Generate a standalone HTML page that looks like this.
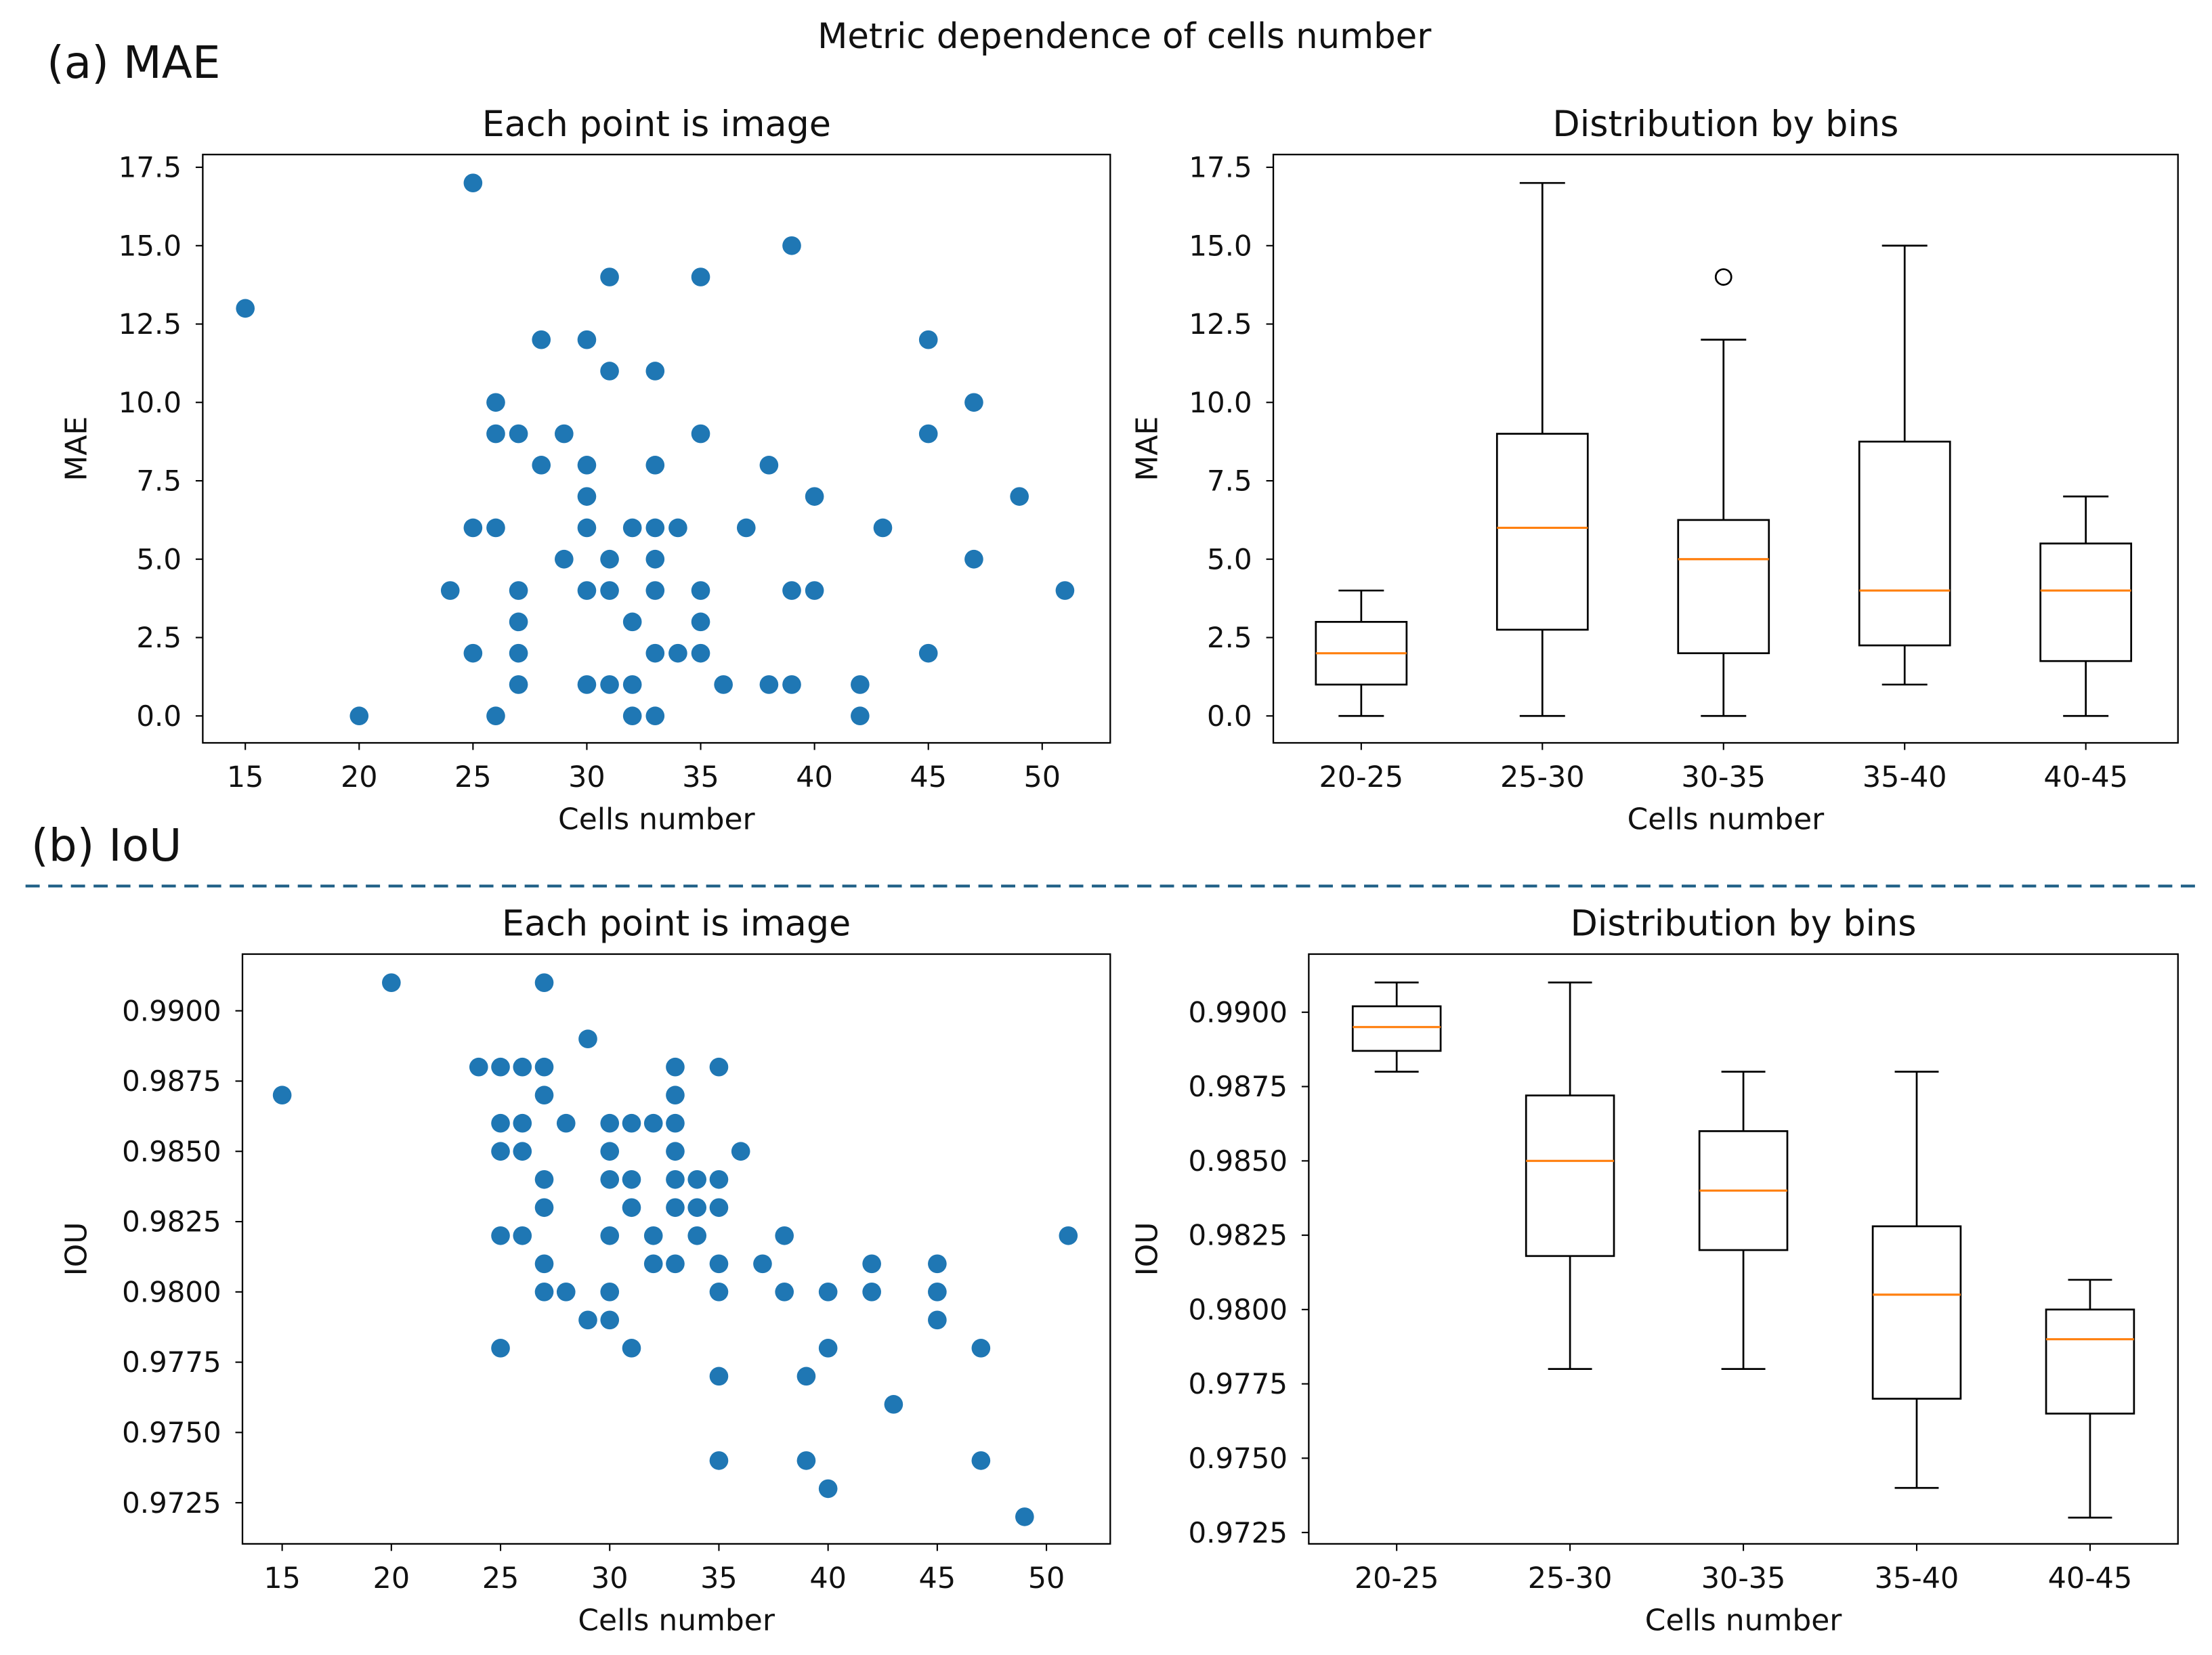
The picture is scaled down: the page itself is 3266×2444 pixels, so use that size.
<!DOCTYPE html>
<html><head><meta charset="utf-8"><style>
html,body{margin:0;padding:0;background:#fff}
svg{display:block;font-family:"DejaVu Sans","Liberation Sans",sans-serif}
</style></head><body>
<svg id="chart" width="3266" height="2444" viewBox="0 0 1560 1167.4" preserveAspectRatio="none" xmlns="http://www.w3.org/2000/svg">
<rect width="1560" height="1168" fill="#fff"/>
<text x="793" y="34" font-size="24.5" text-anchor="middle" fill="#111">Metric dependence of cells number</text>
<text x="33" y="55" font-size="31.5" fill="#111">(a) MAE</text>
<text x="22" y="607" font-size="31.5" fill="#111">(b) IoU</text>
<line x1="18" y1="625" x2="1550" y2="625" stroke="#1f5f86" stroke-width="2" stroke-dasharray="10,6"/>
<g id="g"></g>
</svg>
<script>
// MAE scatter data
const maeX = [15,25,31,35,39,28,30,45,31,33,26,47,26,27,29,35,45,28,30,33,38,30,40,49,25,26,30,32,33,34,37,43,29,31,33,47,24,27,30,31,33,35,39,40,51,27,32,35,25,27,33,34,35,45,27,30,31,32,36,38,39,42,20,26,32,33,42];
const maeY = [13,17,14,14,15,12,12,12,11,11,10,10,9,9,9,9,9,8,8,8,8,7,7,7,6,6,6,6,6,6,6,6,5,5,5,5,4,4,4,4,4,4,4,4,4,3,3,3,2,2,2,2,2,2,1,1,1,1,1,1,1,1,0,0,0,0,0];
// IoU scatter data
const iouX = [20,27,29,24,25,26,27,33,35,15,27,33,25,26,28,30,31,32,33,25,26,30,33,36,27,30,31,33,34,35,27,31,33,34,35,25,26,30,32,34,38,51,27,32,33,35,37,42,45,27,28,30,35,38,40,42,45,29,30,45,25,31,40,47,35,39,43,35,39,47,40,49];
const iouY = [0.991,0.991,0.989,0.988,0.988,0.988,0.988,0.988,0.988,0.987,0.987,0.987,0.986,0.986,0.986,0.986,0.986,0.986,0.986,0.985,0.985,0.985,0.985,0.985,0.984,0.984,0.984,0.984,0.984,0.984,0.983,0.983,0.983,0.983,0.983,0.982,0.982,0.982,0.982,0.982,0.982,0.982,0.981,0.981,0.981,0.981,0.981,0.981,0.981,0.980,0.980,0.980,0.980,0.980,0.980,0.980,0.980,0.979,0.979,0.979,0.978,0.978,0.978,0.978,0.977,0.977,0.976,0.974,0.974,0.974,0.973,0.972];
// Box data
const bins = ["20-25","25-30","30-35","35-40","40-45"];
const maeQ1 = [1,2.75,2,2.25,1.75];
const maeMed = [2,6,5,4,4];
const maeQ3 = [3,9,6.25,8.75,5.5];
const maeLo = [0,0,0,1,0];
const maeHi = [4,17,12,15,7];
const maeOutBin = [2];
const maeOutVal = [14];
const iouQ1 = [0.9887,0.9818,0.982,0.977,0.9765];
const iouMed = [0.9895,0.985,0.984,0.9805,0.979];
const iouQ3 = [0.9902,0.9872,0.986,0.9828,0.980];
const iouLo = [0.988,0.978,0.978,0.974,0.973];
const iouHi = [0.991,0.991,0.988,0.988,0.981];
// Ticks
const xTicks = [15,20,25,30,35,40,45,50];
const maeTicks = [0,2.5,5,7.5,10,12.5,15,17.5];
const maeTickLabels = ["0.0","2.5","5.0","7.5","10.0","12.5","15.0","17.5"];
const iouTicks = [0.9725,0.975,0.9775,0.98,0.9825,0.985,0.9875,0.99];
const iouTickLabels = ["0.9725","0.9750","0.9775","0.9800","0.9825","0.9850","0.9875","0.9900"];

const NS="http://www.w3.org/2000/svg";
const G=document.getElementById('g');
function mk(tag,attrs,parent,text){const e=document.createElementNS(NS,tag);for(const k in attrs)e.setAttribute(k,attrs[k]);if(text!==undefined)e.textContent=text;(parent||G).appendChild(e);return e;}
function lin(d0,d1,r0,r1){return v=>r0+(v-d0)*(r1-r0)/(d1-d0);}

function axesFrame(name,box,title,xlabel,ylabel,ylabX){
  const r=mk('rect',{x:box.x0,y:box.y0,width:box.x1-box.x0,height:box.y1-box.y0,fill:'none',stroke:'#000','stroke-width':1.1});
  
  
  const t=mk('text',{x:(box.x0+box.x1)/2,y:box.y0-13,'font-size':25,'text-anchor':'middle',fill:'#111'},G,title);
  
  
  const xl=mk('text',{x:(box.x0+box.x1)/2,y:box.y1+61,'font-size':21,'text-anchor':'middle',fill:'#111'},G,xlabel);
  
  
  const yy=(box.y0+box.y1)/2;
  const yl=mk('text',{x:ylabX+7,y:yy,'font-size':21,'text-anchor':'middle',fill:'#111',transform:`rotate(-90 ${ylabX+7} ${yy})`},G,ylabel);
  
  
}
function yAxis(name,box,sy,ticks,labels){
  ticks.forEach((v,i)=>{const y=sy(v);
    const l=mk('line',{x1:box.x0-5,x2:box.x0,y1:y,y2:y,stroke:'#000','stroke-width':1});
    
    
    const t=mk('text',{x:box.x0-15,y:y+7,'font-size':20,'text-anchor':'end',fill:'#111'},G,labels[i]);
    
    });
}
function xAxis(name,box,sx,ticks,labels){
  ticks.forEach((v,i)=>{const x=sx(v);
    const l=mk('line',{x1:x,x2:x,y1:box.y1,y2:box.y1+5,stroke:'#000','stroke-width':1});
    
    
    const t=mk('text',{x:x,y:box.y1+31,'font-size':20.5,'text-anchor':'middle',fill:'#111'},G,labels[i]);
    
    });
}
function scatter(name,xs,ys,sx,sy){
  xs.forEach((v,i)=>{const c=mk('circle',{cx:sx(v),cy:sy(ys[i]),r:6.6,fill:'#1f77b4'});
    
    });
}
function boxes(name,sx,sy,q1,med,q3,lo,hi,w){
  bins.forEach((b,i)=>{const x=sx(i);
    const parts=[
      ['line',{x1:x,x2:x,y1:sy(q3[i]),y2:sy(hi[i])},'whisker-high'],
      ['line',{x1:x,x2:x,y1:sy(q1[i]),y2:sy(lo[i])},'whisker-low'],
      ['line',{x1:x-w/4,x2:x+w/4,y1:sy(hi[i]),y2:sy(hi[i])},'cap-high'],
      ['line',{x1:x-w/4,x2:x+w/4,y1:sy(lo[i]),y2:sy(lo[i])},'cap-low'],
      ['rect',{x:x-w/2,y:sy(q3[i]),width:w,height:sy(q1[i])-sy(q3[i]),fill:'none'},'box'],
    ];
    parts.forEach(p=>{const e=mk(p[0],Object.assign({stroke:'#000','stroke-width':1.3},p[1]));
      
      });
    const m=mk('line',{x1:x-w/2,x2:x+w/2,y1:sy(med[i]),y2:sy(med[i]),stroke:'#ff7f0e','stroke-width':1.5});
    
    
  });
}

// Panel a-left
const b1={x0:143,x1:783,y0:109,y1:524};
const sx1=lin(15,50,173,735), sy1=lin(0,17.5,505,118);
axesFrame('mae-scatter',b1,'Each point is image','Cells number','MAE',54);
yAxis('mae-scatter',b1,sy1,maeTicks,maeTickLabels);
xAxis('mae-scatter',b1,sx1,xTicks,xTicks.map(String));
scatter('mae',maeX,maeY,sx1,sy1);

// Panel a-right
const b2={x0:898,x1:1536,y0:109,y1:524};
const sx2=lin(0,4,960,1471), sy2=sy1;
axesFrame('mae-box',b2,'Distribution by bins','Cells number','MAE',809);
yAxis('mae-box',b2,sy2,maeTicks,maeTickLabels);
xAxis('mae-box',b2,sx2,bins.map((_,i)=>i),bins);
boxes('mae',sx2,sy2,maeQ1,maeMed,maeQ3,maeLo,maeHi,64);
maeOutBin.forEach((bi,i)=>{const c=mk('circle',{cx:sx2(bi),cy:sy2(maeOutVal[i]),r:5.5,fill:'none',stroke:'#000','stroke-width':1.3});
  
  });

// Panel b-left
const b3={x0:171,x1:783,y0:673,y1:1089};
const sx3=lin(15,50,199,738), sy3=lin(0.9725,0.99,1060,713);
axesFrame('iou-scatter',b3,'Each point is image','Cells number','IOU',54);
yAxis('iou-scatter',b3,sy3,iouTicks,iouTickLabels);
xAxis('iou-scatter',b3,sx3,xTicks,xTicks.map(String));
scatter('iou',iouX,iouY,sx3,sy3);

// Panel b-right
const b4={x0:923,x1:1536,y0:673,y1:1089};
const sx4=lin(0,4,985,1474), sy4=lin(0.9725,0.99,1081,714);
axesFrame('iou-box',b4,'Distribution by bins','Cells number','IOU',809);
yAxis('iou-box',b4,sy4,iouTicks,iouTickLabels);
xAxis('iou-box',b4,sx4,bins.map((_,i)=>i),bins);
boxes('iou',sx4,sy4,iouQ1,iouMed,iouQ3,iouLo,iouHi,62);
</script>
</body></html>
